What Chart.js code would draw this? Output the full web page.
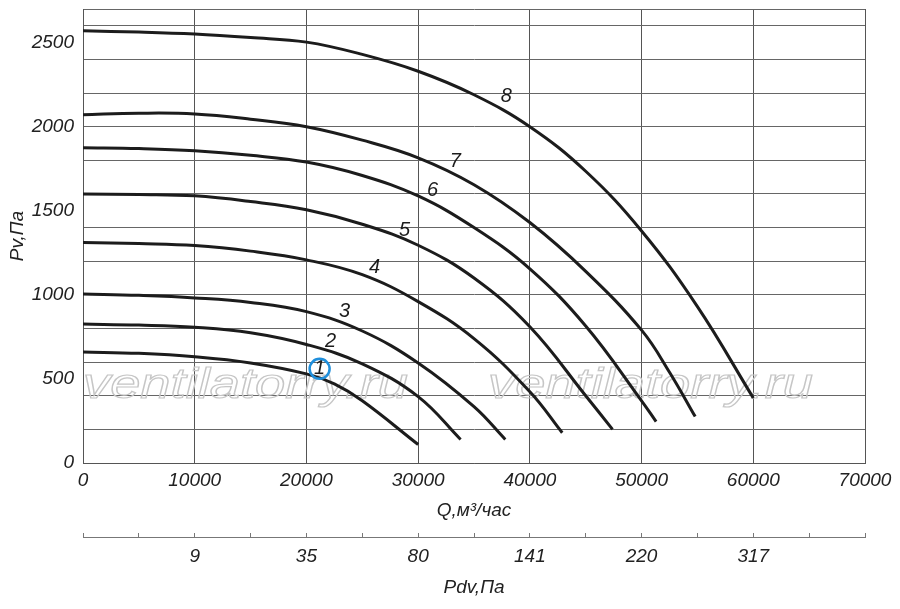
<!DOCTYPE html>
<html>
<head>
<meta charset="utf-8">
<script src="https://cdn.jsdelivr.net/npm/chart.js@4.4.0/dist/chart.umd.min.js"></script>
<style>
  body { margin: 0; background: #fff; }
  #wrap { width: 900px; height: 609px; position: relative; }
</style>
</head>
<body>
<div id="wrap"><canvas id="fanChart"></canvas></div>
<script>
// fan curves: Q (м3/час) against Pv (Па)
const q1 = [0, 5000, 10000, 15000, 20000, 22500, 25000, 30000];
const p1 = [660, 652, 632, 595, 530, 470, 370, 110];
const q2 = [0, 5000, 10000, 15000, 20000, 25000, 30000, 33800];
const p2 = [826, 820, 807, 775, 705, 590, 395, 140];
const q3 = [0, 5000, 10000, 15000, 20000, 25000, 30000, 35000, 37800];
const p3 = [1005, 997, 982, 955, 900, 785, 595, 335, 140];
const q4 = [0, 5000, 10000, 15000, 20000, 25000, 30000, 35000, 40000, 42900];
const p4 = [1312, 1305, 1293, 1260, 1208, 1120, 960, 740, 424, 180];
const q5 = [0, 5000, 10000, 15000, 20000, 25000, 30000, 35000, 40000, 45000, 47400];
const p5 = [1600, 1597, 1589, 1555, 1506, 1420, 1295, 1100, 810, 400, 200];
const q6 = [0, 5000, 10000, 15000, 20000, 25000, 30000, 35000, 40000, 45000, 50000, 51300];
const p6 = [1875, 1870, 1857, 1830, 1790, 1710, 1588, 1400, 1155, 815, 370, 246];
const q7 = [0, 5000, 10000, 15000, 20000, 25000, 30000, 35000, 40000, 45000, 50000, 52500, 54800];
const p7 = [2071, 2080, 2076, 2045, 2000, 1920, 1815, 1655, 1430, 1140, 790, 540, 276];
const q8 = [0, 5000, 10000, 15000, 20000, 25000, 30000, 35000, 40000, 45000, 50000, 55000, 60000];
const p8 = [2570, 2563, 2551, 2530, 2503, 2430, 2330, 2190, 2000, 1735, 1380, 930, 387];

const curveNames = ['1', '2', '3', '4', '5', '6', '7', '8'];
// where each curve number sits (Q, Pv)
const labelQ = [21180, 22160, 23410, 26090, 28780, 31280, 33330, 37890];
const labelP = [560, 720, 899, 1161, 1381, 1619, 1792, 2179];

// second scale under the chart: dynamic pressure at given Q
const pdvAt = [10000, 20000, 30000, 40000, 50000, 60000];
const pdvLabels = ['9', '35', '80', '141', '220', '317'];

const FONT = "'Liberation Sans', Arial, sans-serif";
const textFont = { family: FONT, size: 19, style: 'italic' };

const qs = [q1, q2, q3, q4, q5, q6, q7, q8];
const ps = [p1, p2, p3, p4, p5, p6, p7, p8];

const datasets = qs.map((q, i) => ({
  label: curveNames[i],
  data: q.map((v, j) => ({ x: v, y: ps[i][j] })),
  borderColor: '#1c1c1c',
  borderWidth: 3,
  pointRadius: 0,
  fill: false,
  tension: 0.4
}));

// grey outlined site name behind the curves
const watermark = {
  id: 'watermark',
  beforeDatasetsDraw(chart) {
    const c = chart.ctx;
    const txt = 'ventilatorry.ru';
    c.save();
    c.font = 'italic 43px ' + FONT;
    const k = 325 / c.measureText(txt).width;
    c.strokeStyle = '#c6c6c6';
    c.lineWidth = 1.2;
    [83, 488].forEach(x0 => {
      c.save();
      c.translate(x0, 398);
      c.scale(k, 1);
      c.strokeText(txt, 0, 0);
      c.restore();
    });
    c.restore();
  }
};

const curveLabels = {
  id: 'curveLabels',
  afterDatasetsDraw(chart) {
    const c = chart.ctx;
    const xs = chart.scales.x, ys = chart.scales.y;
    c.save();
    c.font = 'italic 20px ' + FONT;
    c.fillStyle = '#1c1c1c';
    c.textAlign = 'center';
    c.textBaseline = 'middle';
    curveNames.forEach((n, i) => {
      const px = xs.getPixelForValue(labelQ[i]);
      const py = ys.getPixelForValue(labelP[i]);
      c.fillText(n, px, py);
      if (i === 0) {
        c.beginPath();
        c.strokeStyle = '#1f8fdc';
        c.lineWidth = 2.5;
        c.arc(px, py, 10, 0, Math.PI * 2);
        c.stroke();
      }
    });
    c.restore();
  }
};

const ctx = document.getElementById('fanChart').getContext('2d');
new Chart(ctx, {
  type: 'line',
  data: { datasets: datasets },
  plugins: [watermark, curveLabels],
  options: {
    responsive: true,
    maintainAspectRatio: false,
    animation: false,
    layout: { padding: { left: 0, right: 35, top: 9, bottom: 7 } },
    plugins: { legend: { display: false }, tooltip: { enabled: false } },
    scales: {
      x: {
        type: 'linear', position: 'bottom', min: 0, max: 70000,
        ticks: { stepSize: 10000, padding: 6, color: '#222', font: textFont, maxRotation: 0, autoSkip: false,
          callback: v => String(v) },
        grid: { color: '#555', lineWidth: 1, drawTicks: false },
        border: { color: '#555' },
        title: { display: true, text: 'Q,м³/час', color: '#222', font: textFont, padding: { top: 0, bottom: 15 } },
        afterFit(s) { s.height = 74; }
      },
      x2: {
        type: 'linear', position: 'bottom', min: 0, max: 70000,
        ticks: {
          stepSize: 5000, padding: 12, color: '#222', font: textFont, maxRotation: 0, autoSkip: false,
          callback: v => { const k = pdvAt.indexOf(v); return k >= 0 ? pdvLabels[k] : ''; }
        },
        grid: { drawOnChartArea: false, tickLength: -4, color: '#777' },
        border: { color: '#777' },
        title: { display: true, text: 'Pdv,Па', color: '#222', font: textFont, padding: { top: 0, bottom: 3 } },
        afterFit(s) { s.height = 65; }
      },
      y: {
        type: 'linear', min: 0, max: 2700,
        ticks: {
          stepSize: 100, padding: 9, color: '#222', font: textFont, autoSkip: false,
          callback: v => (v % 500 === 0 ? String(v) : '')
        },
        grid: {
          drawTicks: false, lineWidth: 1,
          color: c => (c.tick.value % 200 === 0 || c.tick.value === 2700) ? '#666' : 'rgba(0,0,0,0)'
        },
        border: { color: '#555' },
        title: { display: true, text: 'Pv,Па', color: '#222', font: textFont, padding: { top: 6, bottom: 0 } },
        afterFit(s) { s.width = 83; s.paddingTop = 0; s.paddingBottom = 0; }
      }
    }
  }
});
</script>
</body>
</html>
